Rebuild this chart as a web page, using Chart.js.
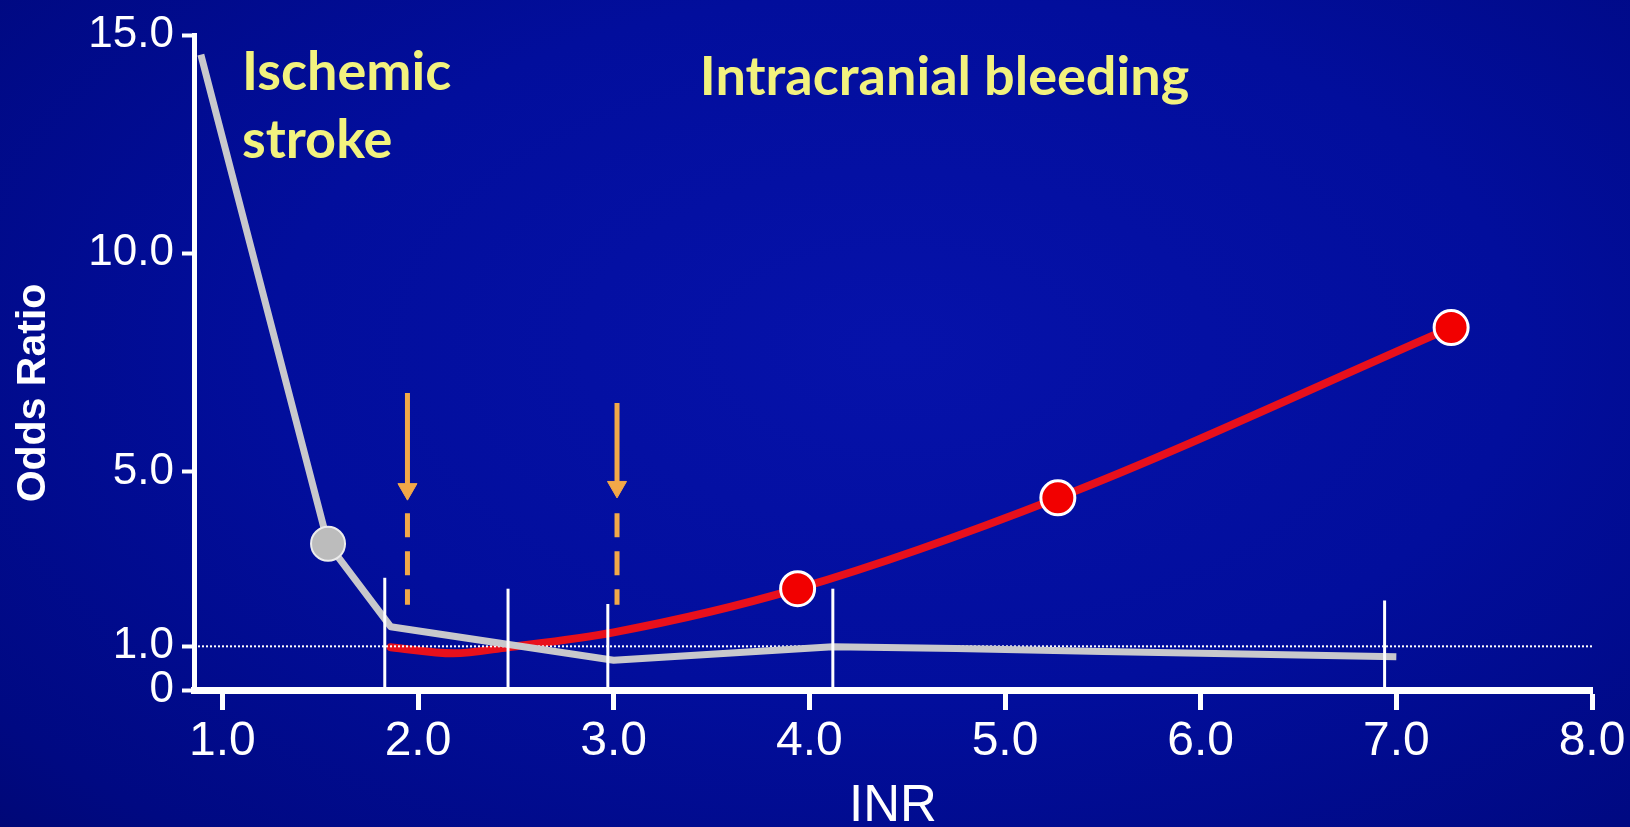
<!DOCTYPE html>
<html>
<head>
<meta charset="utf-8">
<title>INR and odds ratio</title>
<script src="https://cdn.jsdelivr.net/npm/chart.js@4.4.1/dist/chart.umd.min.js"></script>
<style>
  html, body { margin: 0; padding: 0; overflow: hidden; }
  body {
    width: 1630px;
    height: 827px;
    background: radial-gradient(ellipse 85% 95% at 55% 42%, #0612aa 0%, #020e9c 45%, #000982 80%, #00066a 100%);
  }
  #wrap { position: relative; width: 1630px; height: 827px; }
</style>
</head>
<body>
<div id="wrap"><canvas id="inrChart"></canvas></div>
<script>
// axis ticks
const xTicks = [1, 2, 3, 4, 5, 6, 7, 8];
const yTicks = [0, 1, 5, 10, 15];

// ischemic stroke (grey line)
const strokeInr = [0.89, 1.54, 1.86, 3.0, 4.12, 4.75, 5.5, 7.0];
const strokeOr = [14.55, 3.35, 1.45, 0.68, 0.99, 0.95, 0.88, 0.76];
const strokeDots = [0, 1, 0, 0, 0, 0, 0, 0];

// intracranial bleeding (red line)
const bleedInr = [1.86, 2.18, 2.46, 3.0, 3.94, 5.27, 7.28];
const bleedOr = [0.98, 0.84, 0.98, 1.32, 2.32, 4.4, 8.3];
const bleedDots = [0, 0, 0, 0, 1, 1, 1];

// thin white marks standing on the INR axis
const markInr = [1.83, 2.46, 2.97, 4.12, 6.94];
const markTop = [2.57, 2.32, 1.97, 2.32, 2.05];

// orange arrows (target range)
const arrowInr = [1.946, 3.017];
const arrowTop = [6.8, 6.57];
const arrowHead = [4.6, 4.65];
const arrowDashFrom = [4.05, 4.05];
const arrowDashTo = [1.95, 1.95];

const refLevel = 1.0;

const xMin = 0.855;
const xMax = 8;

// text labels (layout only)
const notes = [
  { text: 'Ischemic', x: 1.1, y: 13.74 },
  { text: 'stroke', x: 1.1, y: 12.18 },
  { text: 'Intracranial bleeding', x: 3.44, y: 13.62 }
];

const WHITE = '#ffffff';
const ORANGE = '#f2a848';
const GREY = '#c8c8cc';
const RED = '#e8101c';
const FONT = '"Liberation Sans", Arial, sans-serif';

function pts(xs, ys) {
  return xs.map((x, i) => ({ x: x, y: ys[i] }));
}

const datasets = [];

// white marks on top
markInr.forEach((x, i) => {
  datasets.push({
    data: pts([x, x], [0, markTop[i]]),
    borderColor: WHITE,
    borderWidth: 3,
    pointRadius: 0,
    order: 0
  });
});

// arrows: solid shaft + head, then dashed tail
arrowInr.forEach((x, i) => {
  datasets.push({
    data: pts([x, x], [arrowTop[i], arrowHead[i]]),
    borderColor: ORANGE,
    borderWidth: 5,
    pointRadius: [0, 11],
    pointStyle: 'triangle',
    rotation: 180,
    pointBackgroundColor: ORANGE,
    pointBorderColor: ORANGE,
    pointBorderWidth: 1,
    order: 1
  });
  datasets.push({
    data: pts([x, x], [arrowDashFrom[i], arrowDashTo[i]]),
    borderColor: ORANGE,
    borderWidth: 5,
    borderDash: [24, 14],
    pointRadius: 0,
    order: 1
  });
});

datasets.push({
  label: 'Ischemic stroke',
  data: pts(strokeInr, strokeOr),
  borderColor: GREY,
  borderWidth: 7,
  tension: 0,
  borderJoinStyle: 'round',
  pointRadius: strokeDots.map(d => d ? 17 : 0),
  pointBackgroundColor: '#bcbcbc',
  pointBorderColor: '#ececec',
  pointBorderWidth: 2,
  order: 2
});

datasets.push({
  data: pts([xMin, xMax], [refLevel, refLevel]),
  borderColor: WHITE,
  borderWidth: 2,
  borderDash: [2, 2],
  pointRadius: 0,
  order: 3
});

datasets.push({
  label: 'Intracranial bleeding',
  data: pts(bleedInr, bleedOr),
  borderColor: RED,
  borderWidth: 8,
  cubicInterpolationMode: 'monotone',
  borderCapStyle: 'round',
  pointRadius: bleedDots.map(d => d ? 17 : 0),
  pointBackgroundColor: '#f20000',
  pointBorderColor: WHITE,
  pointBorderWidth: 3,
  order: 4
});

// yellow notes + rotated y title
const notesPlugin = {
  id: 'notes',
  afterDatasetsDraw(chart) {
    const { ctx, scales: { x, y } } = chart;
    ctx.save();
    ctx.fillStyle = '#f2f27e';
    ctx.font = 'bold 54px Lato, sans-serif';
    ctx.textAlign = 'left';
    ctx.textBaseline = 'alphabetic';
    notes.forEach(n => {
      ctx.fillText(n.text, x.getPixelForValue(n.x), y.getPixelForValue(n.y));
    });

    ctx.translate(34, 393);
    ctx.rotate(-Math.PI / 2);
    ctx.fillStyle = WHITE;
    ctx.font = 'bold 41px ' + FONT;
    ctx.textAlign = 'center';
    ctx.textBaseline = 'middle';
    ctx.fillText('Odds Ratio', 0, 0);
    ctx.restore();
  }
};

new Chart(document.getElementById('inrChart'), {
  type: 'line',
  data: { datasets: datasets },
  plugins: [notesPlugin],
  options: {
    responsive: true,
    maintainAspectRatio: false,
    animation: false,
    layout: { padding: { top: 35, right: 38, left: 0, bottom: 0 } },
    plugins: {
      legend: { display: false },
      tooltip: { enabled: false }
    },
    scales: {
      x: {
        type: 'linear',
        min: xMin,
        max: xMax,
        afterBuildTicks: s => { s.ticks = xTicks.map(v => ({ value: v })); },
        afterFit: s => { s.height = 137; },
        border: { display: true, color: WHITE, width: 7 },
        grid: {
          drawOnChartArea: false,
          drawTicks: true,
          tickLength: 20,
          tickWidth: 5,
          tickColor: WHITE
        },
        ticks: {
          color: WHITE,
          autoSkip: false,
          maxRotation: 0,
          padding: 3,
          font: { family: FONT, size: 48 },
          callback: v => v.toFixed(1)
        },
        title: {
          display: true,
          text: 'INR',
          color: WHITE,
          font: { family: FONT, size: 51, lineHeight: 0.8 },
          padding: { top: 0, bottom: 0 }
        }
      },
      y: {
        type: 'linear',
        min: 0,
        max: 15,
        afterBuildTicks: s => { s.ticks = yTicks.map(v => ({ value: v })); },
        afterFit: s => { s.width = 194; },
        border: { display: true, color: WHITE, width: 5 },
        grid: {
          drawOnChartArea: false,
          drawTicks: true,
          tickLength: 12,
          tickWidth: 4,
          tickColor: WHITE
        },
        ticks: {
          color: WHITE,
          padding: 8,
          font: { family: FONT, size: 44 },
          callback: v => v === 0 ? '0' : v.toFixed(1)
        }
      }
    }
  }
});
</script>
</body>
</html>
